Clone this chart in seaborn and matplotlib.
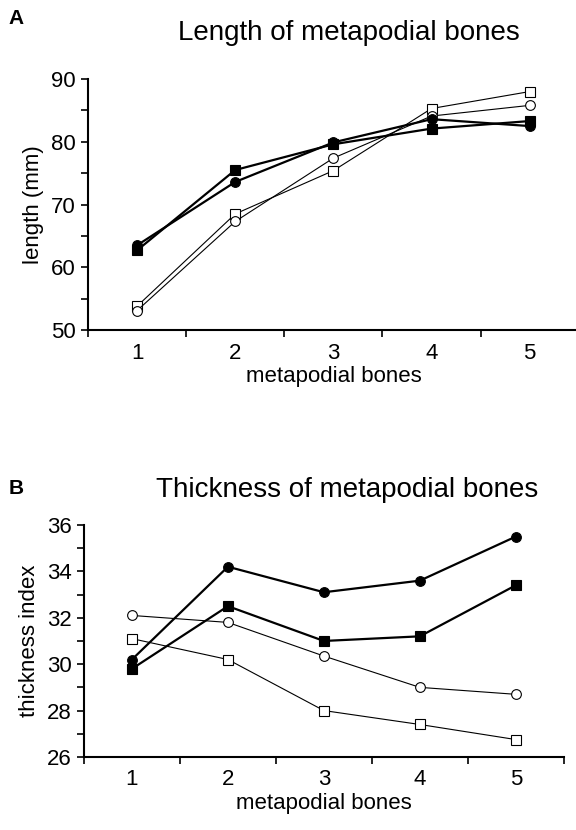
import matplotlib
matplotlib.use("Agg")
import matplotlib.pyplot as plt
import pandas as pd
import seaborn as sns

bones = [1, 2, 3, 4, 5]

# length (mm)
len_filled_circle = [63.5, 73.6, 79.9, 83.6, 82.5]
len_filled_square = [62.7, 75.5, 79.6, 82.1, 83.3]
len_open_circle = [53.1, 67.3, 77.4, 84.1, 85.8]
len_open_square = [53.8, 68.5, 75.4, 85.3, 88.0]

# thickness index
thk_filled_circle = [30.2, 34.2, 33.1, 33.6, 35.5]
thk_filled_square = [29.8, 32.5, 31.0, 31.2, 33.4]
thk_open_circle = [32.1, 31.8, 30.35, 29.0, 28.7]
thk_open_square = [31.1, 30.2, 28.0, 27.4, 26.75]

series_styles = {
    "filled circle": dict(marker="o", mfc="black", lw=1.6, ms=7),
    "filled square": dict(marker="s", mfc="black", lw=1.6, ms=7),
    "open circle": dict(marker="o", mfc="white", lw=0.8, ms=7),
    "open square": dict(marker="s", mfc="white", lw=0.8, ms=7.5),
}


def long_df(values):
    rows = []
    for name, vals in values.items():
        for b, v in zip(bones, vals):
            rows.append({"bone": b, "value": v, "series": name})
    return pd.DataFrame(rows)


df_len = long_df({
    "filled circle": len_filled_circle,
    "filled square": len_filled_square,
    "open circle": len_open_circle,
    "open square": len_open_square,
})
df_thk = long_df({
    "filled circle": thk_filled_circle,
    "filled square": thk_filled_square,
    "open circle": thk_open_circle,
    "open square": thk_open_square,
})

sns.set_style("ticks")
plt.rcParams["font.family"] = ["Liberation Sans", "DejaVu Sans"]
plt.rcParams.update({
    "text.color": "black",
    "axes.labelcolor": "black",
    "axes.edgecolor": "black",
    "xtick.color": "black",
    "ytick.color": "black",
})


def draw_panel(ax, df, ylim, major, minor, ylabel, title, letter, letter_xy, title_xy):
    for name in ["open square", "open circle", "filled square", "filled circle"]:
        st = series_styles[name]
        sns.lineplot(data=df[df["series"] == name], x="bone", y="value", ax=ax,
                     color="black", marker=st["marker"], markerfacecolor=st["mfc"],
                     markeredgecolor="black", markeredgewidth=0.8,
                     markersize=st["ms"], linewidth=st["lw"], clip_on=False)
    ax.set_xlim(0.5, 5.5)
    ax.set_ylim(*ylim)
    ax.set_xticks(bones)
    ax.set_xticks([0.5, 1.5, 2.5, 3.5, 4.5, 5.5], minor=True)
    ax.tick_params(axis="x", which="major", length=0, pad=9, labelsize=16)
    ax.tick_params(axis="x", which="minor", length=5, width=1.2, direction="out")
    ax.set_yticks(major)
    ax.set_yticks(minor, minor=True)
    ax.tick_params(axis="y", which="both", length=5, width=1.2, direction="out",
                   labelsize=16, pad=4)
    for s in ["top", "right"]:
        ax.spines[s].set_visible(False)
    for s in ["left", "bottom"]:
        ax.spines[s].set_linewidth(1.5)
    ax.set_xlabel("metapodial bones", fontsize=16, labelpad=2)
    ax.set_ylabel(ylabel, fontsize=16, labelpad=5)
    fig = ax.figure
    fig.text(title_xy[0], title_xy[1], title, fontsize=20, ha="center", va="center")
    fig.text(letter_xy[0], letter_xy[1], letter, fontsize=15, fontweight="bold",
             ha="left", va="center")


fig = plt.figure(figsize=(5.76, 8.30), dpi=100)
ax_a = fig.add_axes([0.1528, 0.6024, 0.852, 0.3024])
ax_b = fig.add_axes([0.1458, 0.088, 0.833, 0.2795])

draw_panel(ax_a, df_len, (50, 90), [50, 60, 70, 80, 90], [55, 65, 75, 85],
           "length (mm)", "Length of metapodial bones", "A",
           (0.015, 1 - 18 / 830), (0.606, 1 - 33 / 830))
draw_panel(ax_b, df_thk, (26, 36), [26, 28, 30, 32, 34, 36], [27, 29, 31, 33, 35],
           "thickness index", "Thickness of metapodial bones", "B",
           (0.015, 1 - 488 / 830), (0.602, 1 - 490 / 830))

fig.savefig("out.png", dpi=100)
